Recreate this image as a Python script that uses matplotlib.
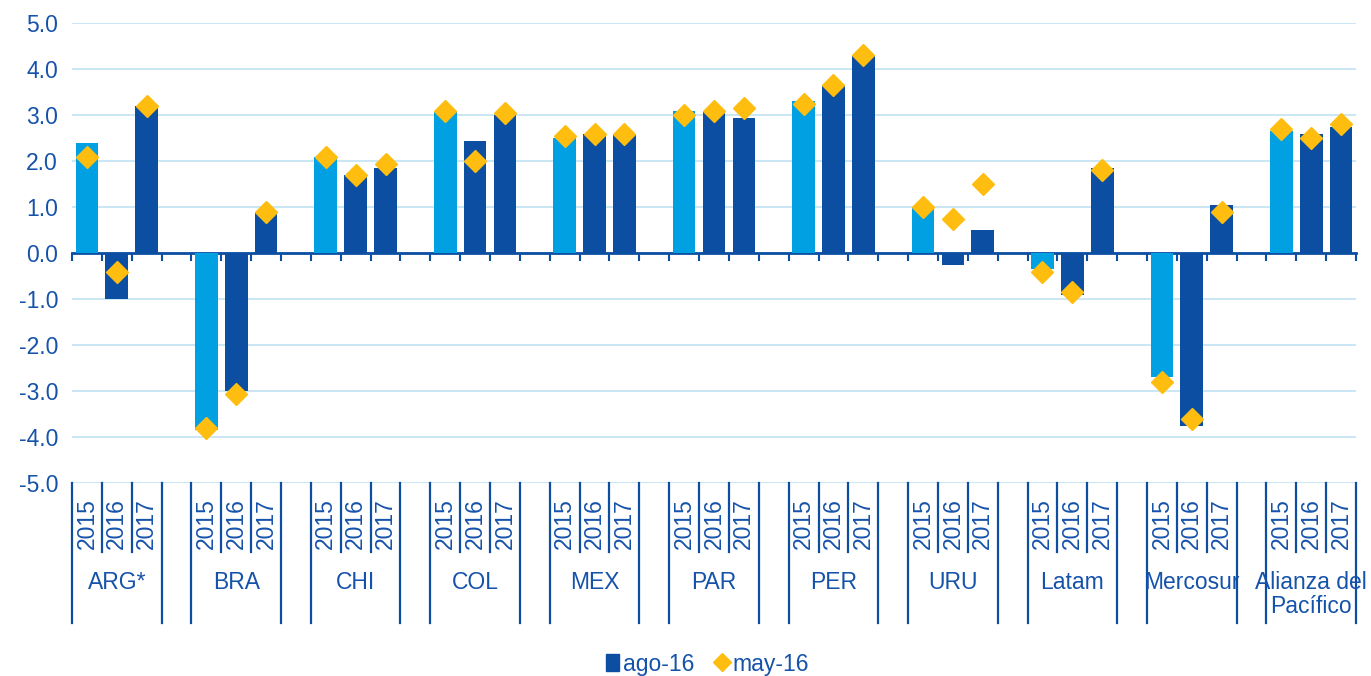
import matplotlib
matplotlib.use("Agg")
import matplotlib.pyplot as plt
from matplotlib.patches import Patch
from matplotlib.lines import Line2D
from matplotlib.transforms import blended_transform_factory

plt.rcParams["font.family"] = ["Liberation Sans", "DejaVu Sans"]
plt.rcParams["axes.unicode_minus"] = False

# Growth forecasts by country / bloc
groups = ["ARG*", "BRA", "CHI", "COL", "MEX", "PAR", "PER", "URU",
          "Latam", "Mercosur", "Alianza del\nPacífico"]
years = ["2015", "2016", "2017"]

# Aug-16 forecast (bars), three years per group
ago_16 = [2.4, -1.0, 3.2,
          -3.85, -3.0, 0.9,
          2.1, 1.7, 1.85,
          3.1, 2.45, 3.0,
          2.5, 2.6, 2.6,
          3.1, 3.1, 2.95,
          3.3, 3.65, 4.3,
          1.0, -0.25, 0.5,
          -0.35, -0.9, 1.85,
          -2.7, -3.75, 1.05,
          2.65, 2.6, 2.75]

# May-16 forecast (diamonds)
may_16 = [2.1, -0.4, 3.2,
          -3.8, -3.05, 0.9,
          2.1, 1.7, 1.95,
          3.1, 2.0, 3.05,
          2.55, 2.6, 2.6,
          3.0, 3.1, 3.15,
          3.25, 3.65, 4.3,
          1.0, 0.75, 1.5,
          -0.4, -0.85, 1.8,
          -2.8, -3.6, 0.9,
          2.7, 2.5, 2.8]

y_ticks = [-5, -4, -3, -2, -1, 0, 1, 2, 3, 4, 5]

DARK = "#0B4EA2"
LIGHT = "#00A0E3"
GOLD = "#FFBE0F"
GRID = "#C6E4F3"
TEXT = "#1552AA"
FS = 16.5

W, H = 1371, 676
fig = plt.figure(figsize=(W / 100, H / 100), dpi=100)

def fx(px):
    return px / W

def fy(py):
    return 1 - py / H

ax = fig.add_axes([fx(72), fy(483.3), fx(1356 - 72), 460 / H])

n_years = len(years)
step = n_years + 1
xs, colors = [], []
for g in range(len(groups)):
    for i in range(n_years):
        xs.append(g * step + i)
        colors.append(LIGHT if i == 0 else DARK)

ax.bar(xs, ago_16, width=0.76, color=colors, zorder=3)
ax.plot(xs, may_16, linestyle="none", marker="D", markersize=11,
        color=GOLD, markeredgecolor=GOLD, zorder=4)

n_slots = len(groups) * step - 1
ax.set_xlim(-0.5, n_slots - 0.5)
ax.set_ylim(-5, 5)
ax.set_yticks(y_ticks)
ax.set_yticklabels([f"{v:.1f}" for v in y_ticks])
ax.tick_params(axis="y", length=0, pad=10, labelsize=FS, labelcolor=TEXT)

ax.grid(axis="y", color=GRID, linewidth=1.3, zorder=0)
ax.set_axisbelow(True)
for s in ["left", "right", "top"]:
    ax.spines[s].set_visible(False)
ax.spines["bottom"].set_position(("data", 0))
ax.spines["bottom"].set_color(DARK)
ax.spines["bottom"].set_linewidth(2)
ax.spines["bottom"].set_zorder(2)
ax.set_xticks([k - 0.5 for k in range(n_slots + 1)])
ax.tick_params(axis="x", direction="out", length=6, width=1.5,
               color=DARK, labelbottom=False)

# Category axis below the plot: years rotated, group names underneath
trans = blended_transform_factory(ax.transData, fig.transFigure)
y_top = fy(483.3)
for g, name in enumerate(groups):
    x0 = g * step
    for xb in (x0 - 0.5, x0 + n_years - 0.5):
        fig.add_artist(Line2D([xb, xb], [y_top, fy(623)], transform=trans,
                              color=DARK, linewidth=1.6))
    for k in range(1, n_years):
        xb = x0 + k - 0.5
        fig.add_artist(Line2D([xb, xb], [y_top, fy(552)], transform=trans,
                              color=DARK, linewidth=1.6))
    for i, yr in enumerate(years):
        fig.text(x0 + i, fy(524), yr, transform=trans, rotation=90,
                 ha="center", va="center", fontsize=FS, color=TEXT)
    fig.text(x0 + 1, fy(571), name, transform=trans, ha="center", va="top",
             fontsize=FS, color=TEXT, linespacing=1.05)

handles = [Patch(facecolor=DARK, edgecolor=DARK),
           Line2D([], [], linestyle="none", marker="D", markersize=9,
                  color=GOLD)]
fig.legend(handles, ["ago-16", "may-16"], loc="center",
           bbox_to_anchor=(fx(707), fy(664)), ncol=2, frameon=False,
           fontsize=FS, labelcolor=TEXT, handlelength=0.6, handleheight=0.75,
           handletextpad=0.15, columnspacing=0.9, borderpad=0)

fig.savefig("out.png", dpi=100)
